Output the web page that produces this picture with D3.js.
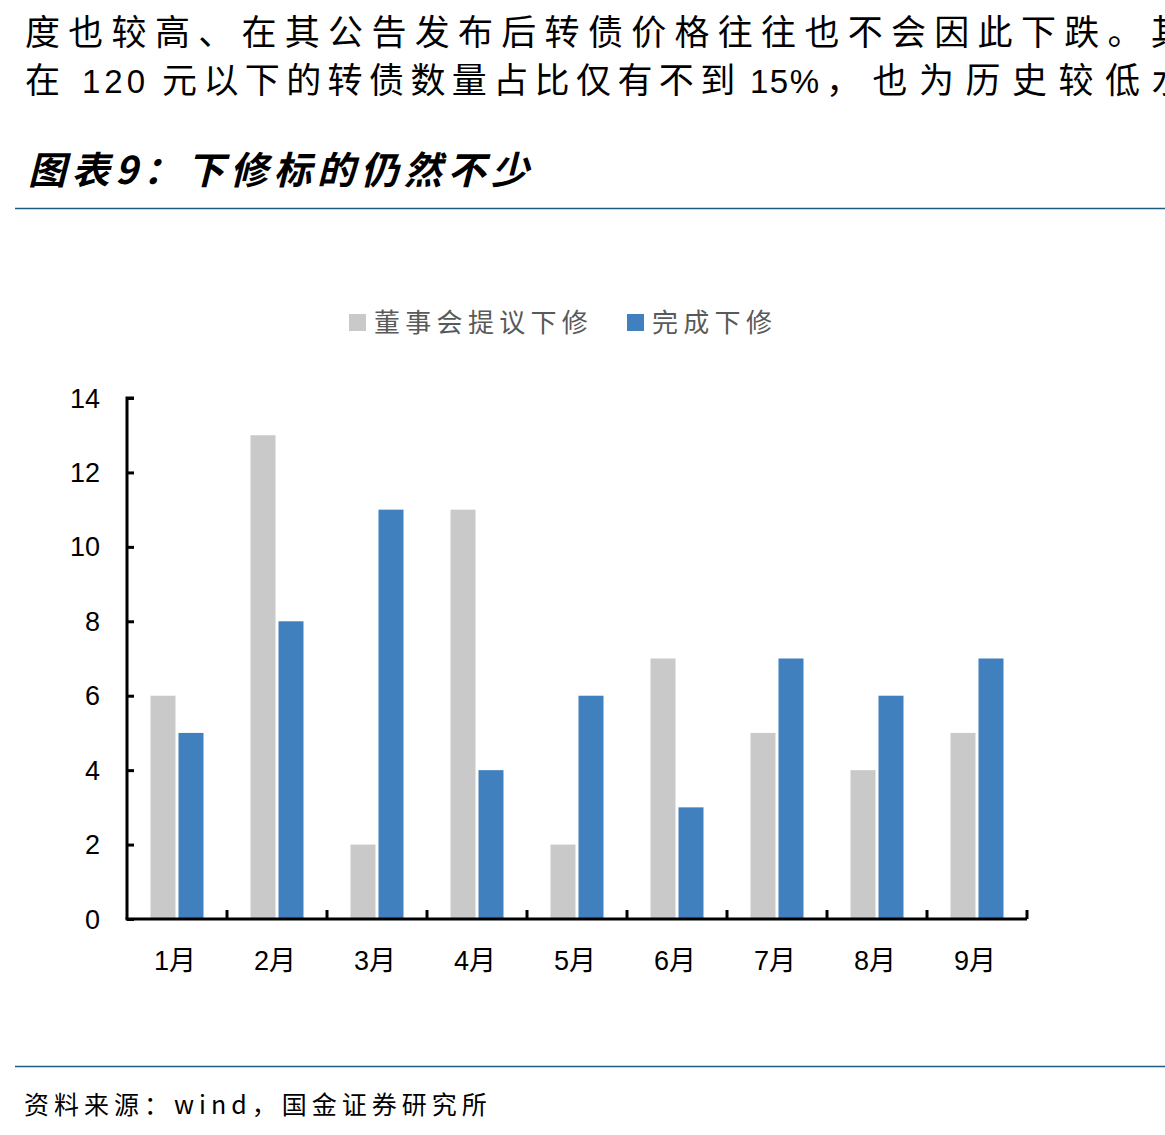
<!DOCTYPE html>
<html lang="zh">
  <head>
    <meta charset="utf-8">
    <title>图表9：下修标的仍然不少</title>
    <script src="https://unpkg.com/d3@7/dist/d3.min.js"></script>
    <style type="text/css">
body,html{
    margin: 0;
    padding: 0;
    background: #fff;
    overflow: hidden;
  }
    </style>
  </head>
  <body>
    <script type="text/javascript">
      // data
      const months = ["1月", "2月", "3月", "4月", "5月", "6月", "7月", "8月", "9月"];
      const proposed = [6, 13, 2, 11, 2, 7, 5, 4, 5];   // 董事会提议下修
      const completed = [5, 8, 11, 4, 6, 3, 7, 6, 7];   // 完成下修
      const seriesNames = ["董事会提议下修", "完成下修"];
      const yTicks = [0, 2, 4, 6, 8, 10, 12, 14];

      const w = 1165, h = 1135;
      const cjk = '"Noto Sans CJK SC", sans-serif';
      const latin = '"Liberation Sans", Arial, sans-serif';

      const svg = d3.select("body").append("svg")
        .attr("width", w)
        .attr("height", h);

      // paragraph text above the chart (runs off the right edge, as in the page it came from)
      // pieces: [text, isCjk, startX, letterSpacing] - the source line is justified so spacing differs
      const para = [
        [["度也较高、在其公告发布后转债价格往往也不会因此下跌。其", true, 25, 8.3]],
        [["在", true, 25, 0], ["120", false, 82, 4], ["元以下的转债数量占比仅有不到", true, 162, 6.4],
         ["15%", false, 750, 1.5], ["，也为历史较低水平", true, 826, 11.5]]
      ];
      para.forEach((pieces, i) => {
        const t = svg.append("text")
          .attr("y", 45 + i * 48)
          .attr("fill", "#000");
        pieces.forEach(p => {
          t.append("tspan")
            .attr("x", p[2])
            .style("font-family", p[1] ? cjk : latin)
            .style("font-size", p[1] ? "35px" : "33px")
            .style("letter-spacing", p[3] + "px")
            .text(p[0]);
        });
      });

      // title
      svg.append("text")
        .attr("x", 28)
        .attr("y", 184)
        .style("font-family", cjk)
        .style("font-size", "38px")
        .style("font-weight", "bold")
        .style("font-style", "italic")
        .style("letter-spacing", "5.5px")
        .text("图表9：下修标的仍然不少");

      svg.append("line")
        .attr("x1", 15).attr("x2", w)
        .attr("y1", 208.5).attr("y2", 208.5)
        .attr("stroke", "#1F5C7E").attr("stroke-width", 1.3);

      svg.append("line")
        .attr("x1", 15).attr("x2", w)
        .attr("y1", 1066.5).attr("y2", 1066.5)
        .attr("stroke", "#1F5C7E").attr("stroke-width", 1.3);

      svg.append("text")
        .attr("x", 24)
        .attr("y", 1114)
        .style("font-family", cjk)
        .style("font-size", "25px")
        .style("letter-spacing", "5px")
        .text("资料来源：wind，国金证券研究所");

      // chart area
      const margin = {left: 127, right: 138, top: 398, bottom: 216};
      const x = d3.scaleBand()
        .domain(months)
        .range([margin.left, w - margin.right]);
      const y = d3.scaleLinear()
        .domain([0, 14])
        .range([h - margin.bottom, margin.top]);

      const barW = 25, gap = 3;
      const offset = (x.bandwidth() - (barW * 2 + gap)) / 2;
      const colors = ["#C9C9C9", "#4080BF"];

      [proposed, completed].forEach((vals, s) => {
        svg.append("g").selectAll("rect")
          .data(vals)
          .enter().append("rect")
          .attr("x", (d, i) => x(months[i]) + offset + (s === 0 ? 0 : barW + gap))
          .attr("y", d => y(d))
          .attr("width", barW)
          .attr("height", d => y(0) - y(d))
          .attr("fill", colors[s]);
      });

      // y axis
      const yAxis = svg.append("g")
        .attr("transform", `translate(${margin.left},0)`)
        .call(d3.axisRight(y).tickValues(yTicks).tickSize(7).tickFormat(""));
      yAxis.selectAll("line, path").attr("stroke", "#000").attr("stroke-width", 3);
      yAxis.select("path").attr("d", `M7,${y(14)}H0V${y(0)}`);

      svg.append("g").selectAll("text")
        .data(yTicks)
        .enter().append("text")
        .attr("x", 100)
        .attr("y", d => y(d) + 9.5)
        .attr("text-anchor", "end")
        .style("font-family", latin)
        .style("font-size", "27px")
        .text(d => d);

      // x axis
      const xAxis = svg.append("g")
        .attr("transform", `translate(0,${y(0)})`);
      xAxis.append("line")
        .attr("x1", margin.left - 1.5).attr("x2", w - margin.right)
        .attr("stroke", "#000").attr("stroke-width", 3);
      xAxis.selectAll("line.tick")
        .data(months)
        .enter().append("line")
        .attr("class", "tick")
        .attr("x1", d => x(d) + x.bandwidth())
        .attr("x2", d => x(d) + x.bandwidth())
        .attr("y1", 0).attr("y2", -9)
        .attr("stroke", "#000").attr("stroke-width", 3);
      const xl = xAxis.selectAll("text")
        .data(months)
        .enter().append("text")
        .attr("x", d => x(d) + x.bandwidth() / 2 - 2)
        .attr("y", 51)
        .attr("text-anchor", "middle")
        .style("font-size", "27px");
      xl.append("tspan").style("font-family", latin).text(d => d.slice(0, -1));
      xl.append("tspan").style("font-family", cjk).text("月");

      // legend
      const legend = svg.append("g");
      const legendX = [349, 627];
      seriesNames.forEach((name, i) => {
        legend.append("rect")
          .attr("x", legendX[i]).attr("y", 314)
          .attr("width", 17).attr("height", 17)
          .attr("fill", colors[i]);
        legend.append("text")
          .attr("x", legendX[i] + 25)
          .attr("y", 332)
          .style("font-family", cjk)
          .style("font-size", "26px")
          .style("letter-spacing", "5.3px")
          .attr("fill", "#595959")
          .text(name);
      });
    </script>
  </body>
</html>
